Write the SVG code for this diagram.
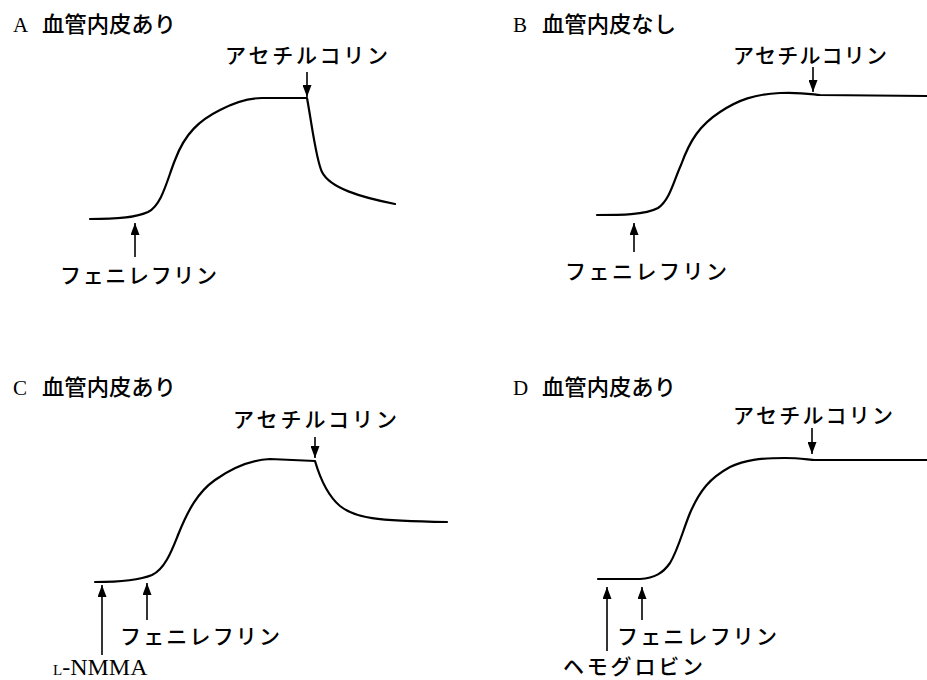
<svg xmlns="http://www.w3.org/2000/svg" width="927" height="680" viewBox="0 0 927 680">
<defs>
<style>
.bg{fill:#fff}
.curve{fill:none;stroke:#000;stroke-width:2.2;stroke-linecap:round;stroke-linejoin:round}
.arr{fill:none;stroke:#000;stroke-width:1.6}
.lat{font-family:"Liberation Serif",serif;fill:#000}
.jp{font-family:"Noto Sans CJK JP",sans-serif;fill:#000;font-size:21px;font-weight:500}
.ttl{font-family:"Noto Sans CJK JP",sans-serif;fill:#000;font-size:22px;font-weight:500}
</style>
<marker id="ah" markerUnits="userSpaceOnUse" markerWidth="12" markerHeight="9" refX="12" refY="4.5" orient="auto">
<path d="M0,0 L12,4.5 L0,9 z" fill="#000"/>
</marker>
</defs>
<rect class="bg" width="927" height="680"/>

<g id="panelA">
<text class="lat" x="13" y="32" font-size="21">A</text>
<text class="ttl" x="42" y="32" textLength="134" lengthAdjust="spacingAndGlyphs">血管内皮あり</text>
<text class="jp" x="225" y="63" textLength="163">アセチルコリン</text>
<text class="jp" x="60" y="283" textLength="157">フェニレフリン</text>
<path class="curve" d="M90,219 C115,219 135,218 148,212 C162,205 167,180 175,160 C185,133 200,120 220,110 C235,102 248,98 262,98 L307,98 C312,125 316,160 322,172 C330,188 360,197 395,204"/>
</g>

<g id="panelB">
<text class="lat" x="513" y="32" font-size="21">B</text>
<text class="ttl" x="542" y="32" textLength="134" lengthAdjust="spacingAndGlyphs">血管内皮なし</text>
<text class="jp" x="733" y="63" textLength="154">アセチルコリン</text>
<text class="jp" x="565" y="279" textLength="162">フェニレフリン</text>
<path class="curve" d="M597,215 C620,215 645,215 658,208 C670,200 674,180 681,165 C690,140 700,125 720,112 C738,100 755,94 780,93 C800,92 810,94 820,95 L927,96"/>
</g>

<g id="panelC">
<text class="lat" x="13" y="395" font-size="21">C</text>
<text class="ttl" x="42" y="395" textLength="134" lengthAdjust="spacingAndGlyphs">血管内皮あり</text>
<text class="jp" x="233" y="427" textLength="164">アセチルコリン</text>
<text class="jp" x="120" y="644" textLength="160">フェニレフリン</text>
<text class="lat" x="53" y="675" font-size="24"><tspan font-size="15">L</tspan>-NMMA</text>
<path class="curve" d="M95,582 C115,582 140,580 152,575 C165,569 172,550 178,535 C188,510 198,492 215,480 C232,468 250,460 270,459 L315,461 C320,478 327,495 340,506 C355,518 375,521 447,522"/>
</g>

<g id="panelD">
<text class="lat" x="513" y="395" font-size="21">D</text>
<text class="ttl" x="542" y="395" textLength="134" lengthAdjust="spacingAndGlyphs">血管内皮あり</text>
<text class="jp" x="733" y="423" textLength="160">アセチルコリン</text>
<text class="jp" x="617" y="644" textLength="160">フェニレフリン</text>
<text class="jp" x="563" y="674" textLength="140">ヘモグロビン</text>
<path class="curve" d="M598,579 L640,579 C655,578 663,573 670,563 C678,550 683,530 690,513 C700,490 710,478 730,467 C745,460 760,458 785,458 C800,458 810,460 815,460 L927,460"/>
</g>

<g id="connectors">
<line class="arr" x1="307" y1="72" x2="307" y2="97" marker-end="url(#ah)"/>
<line class="arr" x1="135" y1="257" x2="135" y2="223" marker-end="url(#ah)"/>
<line class="arr" x1="813" y1="67" x2="813" y2="92" marker-end="url(#ah)"/>
<line class="arr" x1="634" y1="252" x2="634" y2="223" marker-end="url(#ah)"/>
<line class="arr" x1="315" y1="437" x2="315" y2="458" marker-end="url(#ah)"/>
<line class="arr" x1="102" y1="655" x2="102" y2="585" marker-end="url(#ah)"/>
<line class="arr" x1="147" y1="620" x2="147" y2="583" marker-end="url(#ah)"/>
<line class="arr" x1="812" y1="428" x2="812" y2="454" marker-end="url(#ah)"/>
<line class="arr" x1="607" y1="651" x2="607" y2="587" marker-end="url(#ah)"/>
<line class="arr" x1="642" y1="620" x2="642" y2="587" marker-end="url(#ah)"/>
</g>
</svg>
